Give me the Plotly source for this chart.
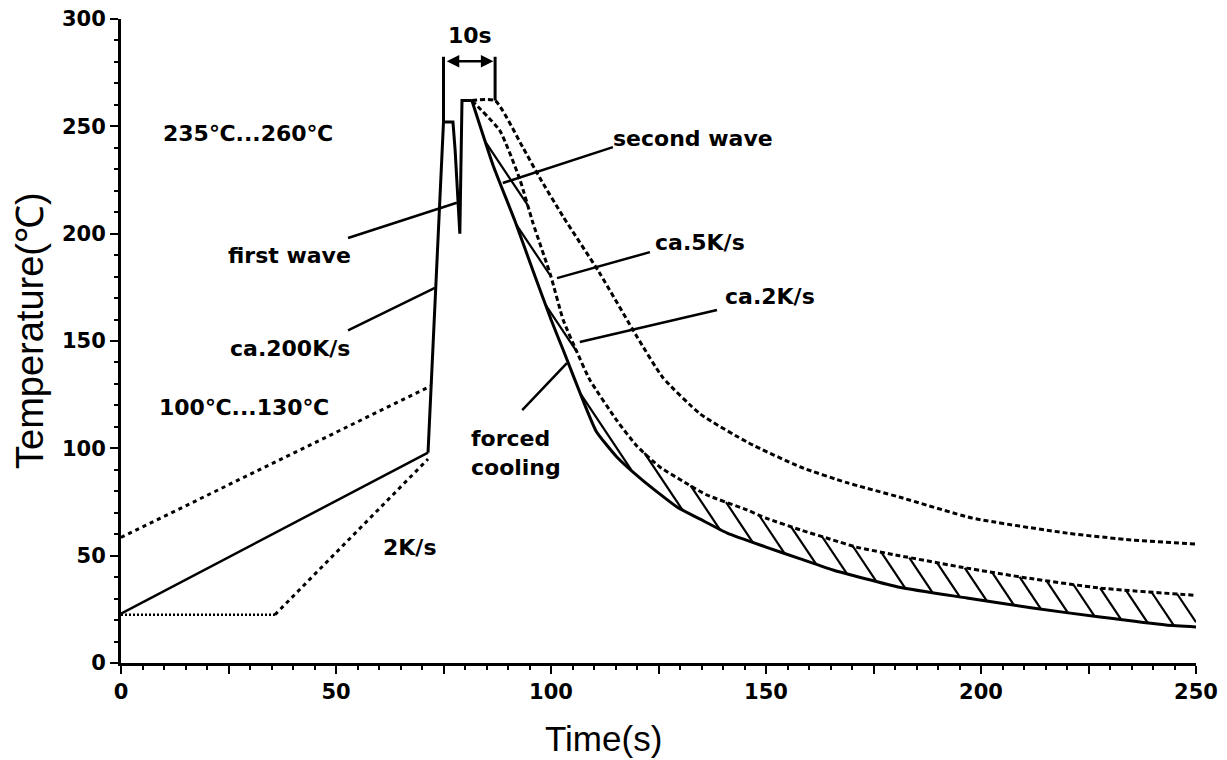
import numpy as np
import plotly.graph_objects as go

# ---------------- data ----------------
# preheat phase
preheat_upper_x = [0, 72.0]
preheat_upper_y = [58.5, 129.0]
preheat_solid_x = [0, 71.4]
preheat_solid_y = [23.0, 98.0]
preheat_hold_x = [0, 35.8]
preheat_hold_y = [22.5, 22.5]
preheat_ramp_x = [35.8, 71.4]
preheat_ramp_y = [22.5, 95.0]

# first + second wave (solid)
wave_x = [71.4, 73.4, 75.0, 77.2, 77.7, 78.8, 79.3, 81.6]
wave_y = [98, 187.7, 252, 252, 239, 200, 262, 262]

# cooling curves
cool_lower_x = [81.6, 86.5, 91.6, 96.3, 100.0, 103.0, 107.4, 110.5, 115.3, 121.4, 129.3, 134.7,
                141.0, 150.0, 158.0, 165.6, 181.0, 196.7, 212.0, 227.7, 243.0, 250.0]
cool_lower_y = [262, 232, 206, 180, 160, 145, 122.5, 108, 96, 85, 72.7, 67,
                60.5, 54, 48.5, 43.3, 35.3, 30.3, 25.6, 21.4, 17.7, 16.8]

cool_mid_x = [81.6, 88.1, 92.8, 95.8, 100.0, 102.8, 106.0, 109.0, 115.3, 120.0, 125.3, 130.0,
              136.0, 145.6, 150.0, 158.0, 165.6, 171.0, 181.0, 196.7, 210.7, 227.7, 250.0]
cool_mid_y = [262, 248, 225, 205, 180, 160, 145, 132, 113, 101, 91.3, 85.5,
              78.5, 71.3, 67.5, 62, 57.3, 54, 50, 44.2, 39.6, 34.9, 31.5]

cool_upper_x = [81.6, 87.0, 93.5, 97.4, 102.8, 111.2, 120.0, 126.0, 134.7, 146.0, 158.0,
                168.8, 181.0, 198.0, 220.0, 235.0, 250.0]
cool_upper_y = [262, 262, 240, 226, 208, 182, 152, 133, 116, 102.5, 91.3,
                84, 77.3, 67.5, 60.5, 57.3, 55.4]

# text labels: (text, x, y)
labels = [
    ("235℃...260℃", 29.5, 246.8),
    ("first wave", 39.3, 190.0),
    ("ca.200K/s", 39.3, 146.7),
    ("100℃...130℃", 28.5, 118.8),
    ("2K/s", 67.2, 53.6),
    ("second wave", 133.0, 244.5),
    ("ca.5K/s", 134.7, 196.0),
    ("ca.2K/s", 151.0, 170.5),
    ("forced<br>cooling", 91.9, 97.8),
    ("10s", 81.2, 292.5),
]
# pointer lines for labels: (x0, y0, x1, y1)
pointers = [
    (52.8, 198.0, 78.1, 214.4),
    (52.8, 155.0, 73.0, 174.7),
    (88.8, 223.6, 114.4, 240.3),
    (101.4, 179.3, 123.0, 191.4),
    (106.7, 149.5, 138.6, 164.4),
    (93.3, 117.8, 103.7, 139.7),
]
# 10 s bracket
bracket_left_x = 75.0
bracket_right_x = 87.0
bracket_y = 280.3
bracket_top = 282.4

x_major = [0, 25, 50, 75, 100, 125, 150, 175, 200, 225, 250]
x_labels = ["0", "", "50", "", "100", "", "150", "", "200", "", "250"]
y_major = [0, 50, 100, 150, 200, 250, 300]
y_labels = ["0", "50", "100", "150", "200", "250", "300"]
x_title = "Time(s)"
y_title = "Temperature(℃)"

# ---------------- hatch between lower solid and middle dotted ----------------
HATCH_SLOPE = 3.0
HATCH_STEP = 17.0
xs = np.linspace(cool_lower_x[0], 250, 6000)
lo = np.interp(xs, cool_lower_x, cool_lower_y)
hi = np.interp(xs, cool_mid_x, cool_mid_y)
hx, hy = [], []
for c in np.arange(446, 800, HATCH_STEP):
    f = c - HATCH_SLOPE * xs
    inside = (f >= lo) & (f <= hi)
    edges = np.flatnonzero(np.diff(np.r_[0, inside.astype(int), 0]))
    for s, e in zip(edges[::2], edges[1::2]):
        if xs[e - 1] - xs[s] < 0.8:
            continue
        hx += [xs[s], xs[e - 1], None]
        hy += [f[s], f[e - 1], None]

fig = go.Figure()
BLK = "black"

def add_line(x, y, width, dash="solid", shape="linear"):
    fig.add_trace(go.Scatter(x=x, y=y, mode="lines", cliponaxis=False,
                             line=dict(color=BLK, width=width, dash=dash, shape=shape,
                                       smoothing=0.5 if shape == "spline" else None),
                             hoverinfo="skip", showlegend=False))

add_line(hx, hy, 2.2)
add_line(preheat_upper_x, preheat_upper_y, 3, "4px,4px")
add_line(preheat_hold_x, preheat_hold_y, 2.5, "2px,2px")
add_line(preheat_ramp_x, preheat_ramp_y, 3, "4px,4px")
add_line(preheat_solid_x, preheat_solid_y, 2.5)
add_line(wave_x, wave_y, 3)
add_line(cool_lower_x, cool_lower_y, 3, shape="spline")
add_line(cool_mid_x, cool_mid_y, 3, "5px,3px", shape="spline")
add_line(cool_upper_x, cool_upper_y, 3, "5px,3px", shape="spline")

shapes = []
for (x0, y0, x1, y1) in pointers:
    shapes.append(dict(type="line", xref="x", yref="y", x0=x0, y0=y0, x1=x1, y1=y1,
                       line=dict(color=BLK, width=2.5)))
shapes.append(dict(type="line", xref="x", yref="y", x0=bracket_left_x, x1=bracket_left_x,
                   y0=252, y1=bracket_top, line=dict(color=BLK, width=3)))
shapes.append(dict(type="line", xref="x", yref="y", x0=bracket_right_x, x1=bracket_right_x,
                   y0=262, y1=bracket_top, line=dict(color=BLK, width=3)))

annotations = []
for t, x, y in labels:
    annotations.append(dict(text=t, x=x, y=y, xref="x", yref="y", showarrow=False,
                            font=dict(family="DejaVu Sans", size=22, color=BLK, weight="bold"),
                            xanchor="center", yanchor="middle", align="left"))
annotations.append(dict(text="", x=bracket_right_x - 0.4, y=bracket_y, ax=bracket_left_x + 0.4,
                        ay=bracket_y, xref="x", yref="y", axref="x", ayref="y", showarrow=True,
                        arrowhead=2, arrowside="end+start", arrowsize=1, arrowwidth=2.5,
                        arrowcolor=BLK))
# axis titles (placed as in the reference, not centred on the plot)
annotations.append(dict(text=x_title, x=0.4484, y=-0.118, xref="paper", yref="paper",
                        showarrow=False, xanchor="center", yanchor="middle",
                        font=dict(family="Liberation Sans", size=35, color=BLK)))
annotations.append(dict(text=y_title, x=-0.0847, y=0.517, xref="paper", yref="paper",
                        showarrow=False, xanchor="center", yanchor="middle", textangle=-90,
                        font=dict(family="Liberation Sans", size=38, color=BLK)))

tickfont = dict(family="DejaVu Sans", size=21, color=BLK, weight="bold")
# the page body adds an 8 px offset, so margins are shifted to keep the plot area in place
fig.update_layout(
    width=1227, height=760,
    margin=dict(l=113, r=39, t=11, b=105),
    plot_bgcolor="white", paper_bgcolor="white",
    shapes=shapes, annotations=annotations,
    xaxis=dict(range=[0, 250], tickmode="array", tickvals=x_major, ticktext=x_labels,
               automargin=False, ticklabeloverflow="allow",
               ticks="outside", ticklen=8, tickwidth=2, tickcolor=BLK,
               showline=True, linewidth=3, linecolor=BLK, showgrid=False, zeroline=False,
               tickfont=tickfont,
               minor=dict(dtick=5, tick0=0, ticks="outside", ticklen=4, tickwidth=2,
                          tickcolor=BLK, showgrid=False)),
    yaxis=dict(range=[0, 300], tickmode="array", tickvals=y_major, ticktext=y_labels,
               automargin=False, ticklabeloverflow="allow",
               ticks="outside", ticklen=8, tickwidth=2, tickcolor=BLK,
               showline=True, linewidth=3, linecolor=BLK, showgrid=False, zeroline=False,
               tickfont=tickfont,
               minor=dict(dtick=10, tick0=0, ticks="outside", ticklen=4, tickwidth=2,
                          tickcolor=BLK, showgrid=False)),
)

fig.write_html("out.html")
